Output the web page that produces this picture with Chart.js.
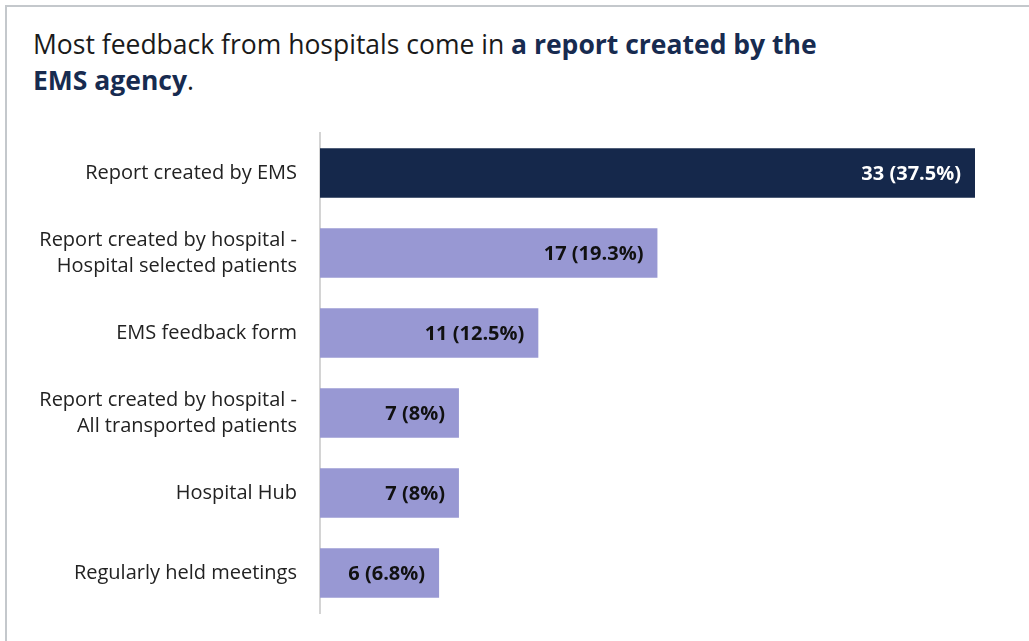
<!DOCTYPE html>
<html>
<head>
<meta charset="utf-8">
<script src="https://cdn.jsdelivr.net/npm/chart.js@4"></script>
<style>
  html, body { margin: 0; padding: 0; background: #fff; }
  #wrap { position: relative; width: 1029px; height: 641px; overflow: hidden; }
  #frame {
    position: absolute; left: 5px; top: 5px; right: -10px; bottom: -10px;
    border-top: 2px solid #c4c8cc; border-left: 2px solid #c4c8cc;
  }
  #title {
    position: absolute; left: 33px; top: 26px; width: 950px;
    font-family: "Open Sans", sans-serif;
    font-size: 26.5px; line-height: 36px; color: #1a1a1a;
  }
  #title b { color: #172b50; }
  canvas { position: absolute; left: 0; top: 0; }
</style>
</head>
<body>
<div id="wrap">
  <div id="frame"></div>
  <div id="title">Most feedback from hospitals come in <b>a report created by the<br>EMS agency</b>.</div>
  <canvas id="my-chart" width="1029" height="641"></canvas>
</div>
<script>
const categories = [
  "Report created by EMS",
  ["Report created by hospital -", "Hospital selected patients"],
  "EMS feedback form",
  ["Report created by hospital -", "All transported patients"],
  "Hospital Hub",
  "Regularly held meetings"
];
const counts = [33, 17, 11, 7, 7, 6];
const shares = ["37.5%", "19.3%", "12.5%", "8%", "8%", "6.8%"];
const barColors = ["#15284b", "#9898d3", "#9898d3", "#9898d3", "#9898d3", "#9898d3"];
const valueColors = ["#ffffff", "#111111", "#111111", "#111111", "#111111", "#111111"];

const fontFamily = "'Open Sans', sans-serif";

// write "n (p%)" at the inside end of each bar
const barValues = {
  id: "barValues",
  afterDatasetsDraw(chart) {
    const ctx = chart.ctx;
    const meta = chart.getDatasetMeta(0);
    ctx.save();
    ctx.font = "bold 20px " + fontFamily;
    ctx.textAlign = "right";
    ctx.textBaseline = "middle";
    meta.data.forEach((bar, i) => {
      ctx.fillStyle = valueColors[i];
      ctx.fillText(counts[i] + " (" + shares[i] + ")", bar.x - 14, bar.y + 1);
    });
    ctx.restore();
  }
};

const myChart = new Chart(document.querySelector("#my-chart"), {
  type: "bar",
  data: {
    labels: categories,
    datasets: [
      {
        data: counts,
        backgroundColor: barColors,
        barPercentage: 0.62,
        categoryPercentage: 1,
      },
    ],
  },
  options: {
    indexAxis: "y",
    responsive: false,
    animation: false,
    layout: { padding: { top: 133, bottom: 19, right: 54, left: 0 } },
    plugins: {
      legend: { display: false },
      tooltip: { enabled: false },
    },
    scales: {
      x: {
        display: false,
        min: 0,
        max: 33,
      },
      y: {
        grid: { display: false },
        border: { display: true, color: "#d4d4d4", width: 2 },
        ticks: {
          color: "#222222",
          padding: 15,
          font: { family: fontFamily, size: 20, lineHeight: 1.3 },
        },
        afterFit(scale) {
          scale.width = 320;
        },
      },
    },
  },
  plugins: [barValues],
});
</script>
</body>
</html>
